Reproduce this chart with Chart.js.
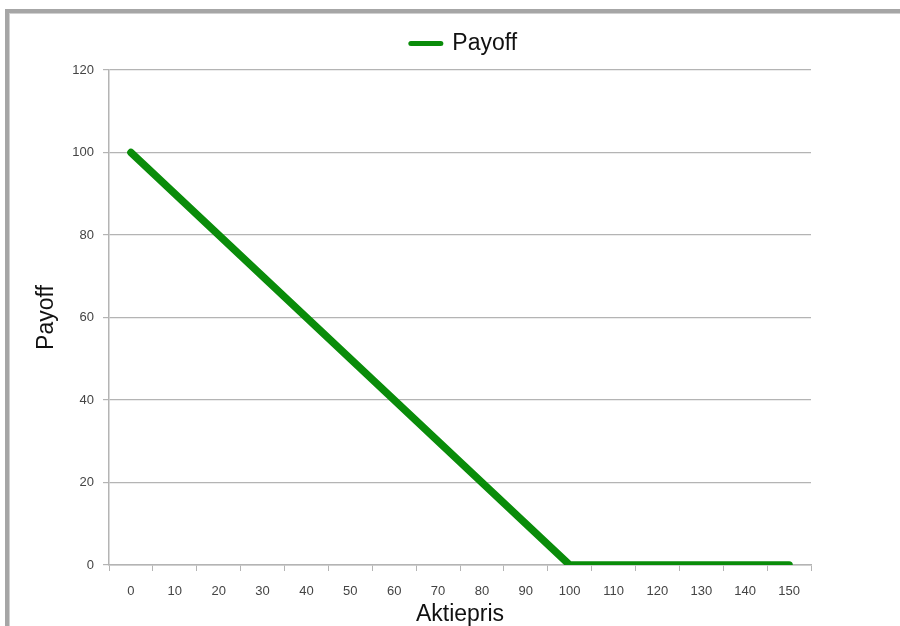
<!DOCTYPE html>
<html>
<head>
<meta charset="utf-8">
<script src="https://cdn.jsdelivr.net/npm/chart.js@4"></script>
<style>
    html, body { margin: 0; padding: 0; background: #fff; overflow: hidden; }
    #frame {
        position: absolute; left: 5px; top: 9px; width: 1000px; height: 700px;
        border-left: 4px solid #a6a6a6; border-top: 4px solid #a6a6a6;
        box-shadow: inset 1px 1px 0 #d0d0d0;
    }
    #wrap { position: absolute; left: 0; top: 0; width: 900px; height: 626px; }
</style>
</head>
<body>
<div id="frame"></div>
<div id="wrap"><canvas id="chartPayoff"></canvas></div>
<script>
const aktiepris = [0, 10, 20, 30, 40, 50, 60, 70, 80, 90, 100, 110, 120, 130, 140, 150];
const payoff = [100, 90, 80, 70, 60, 50, 40, 30, 20, 10, 0, 0, 0, 0, 0, 0];
const yTicks = [0, 20, 40, 60, 80, 100, 120];

const groen = '#0a8c0a';
const gitter = '#b4b4b4';

// tomme akser, kun brugt som afstand rundt om plotområdet
const spacer = (pos, size) => ({
    position: pos,
    display: true,
    grid: { display: false },
    border: { display: false },
    ticks: { display: false },
    afterFit(scale) {
        if (pos === 'top') scale.height = size;
        else scale.width = size;
    },
});

new Chart(document.getElementById('chartPayoff'), {
    type: 'line',
    data: {
        labels: aktiepris,
        datasets: [{
            label: 'Payoff',
            data: payoff,
            borderColor: groen,
            backgroundColor: groen,
            borderWidth: 7.5,
            borderCapStyle: 'round',
            borderJoinStyle: 'round',
            pointRadius: 0,
            tension: 0,
            xAxisID: 'x',
            yAxisID: 'y',
        }],
    },
    options: {
        responsive: true,
        maintainAspectRatio: false,
        animation: false,
        layout: { padding: { left: 28, right: 0, top: 17, bottom: 0 } },
        plugins: {
            legend: {
                display: true,
                position: 'top',
                labels: {
                    usePointStyle: true,
                    pointStyle: 'line',
                    pointStyleWidth: 30,
                    boxWidth: 14,
                    boxHeight: 14,
                    padding: 15,
                    color: '#111',
                    font: { family: 'Liberation Sans, Arial', size: 23 },
                    generateLabels(chart) {
                        const items = Chart.defaults.plugins.legend.labels.generateLabels(chart);
                        items.forEach(it => { it.lineWidth = 5; it.lineCap = 'round'; });
                        return items;
                    },
                },
            },
            tooltip: { enabled: false },
        },
        scales: {
            x: {
                type: 'category',
                offset: true,
                grid: {
                    offset: true,
                    drawOnChartArea: false,
                    drawTicks: true,
                    tickLength: 6,
                    color: gitter,
                },
                border: { color: gitter, width: 1.5 },
                ticks: {
                    padding: 13,
                    maxRotation: 0,
                    autoSkip: false,
                    color: '#444',
                    font: { family: 'Liberation Sans, Arial', size: 13 },
                },
                title: {
                    display: true,
                    text: 'Aktiepris',
                    color: '#111',
                    padding: { top: 0, bottom: 0 },
                    font: { family: 'Liberation Sans, Arial', size: 23, lineHeight: 1 },
                },
                afterFit(scale) { scale.height = 61; },
            },
            y: {
                min: 0,
                max: 120,
                afterBuildTicks(scale) { scale.ticks = yTicks.map(v => ({ value: v })); },
                grid: {
                    color: gitter,
                    lineWidth: 1.2,
                    drawTicks: true,
                    tickLength: 6,
                },
                border: { color: gitter, width: 1.5 },
                ticks: {
                    padding: 9,
                    color: '#444',
                    font: { family: 'Liberation Sans, Arial', size: 13 },
                },
                title: {
                    display: true,
                    text: 'Payoff',
                    color: '#111',
                    padding: { top: 7, bottom: 0 },
                    font: { family: 'Liberation Sans, Arial', size: 23, lineHeight: 1 },
                },
                afterFit(scale) { scale.width = 81; },
            },
            xTop: { type: 'category', axis: 'x', ...spacer('top', 5) },
            yRight: { type: 'linear', axis: 'y', ...spacer('right', 89) },
        },
    },
});
</script>
</body>
</html>
